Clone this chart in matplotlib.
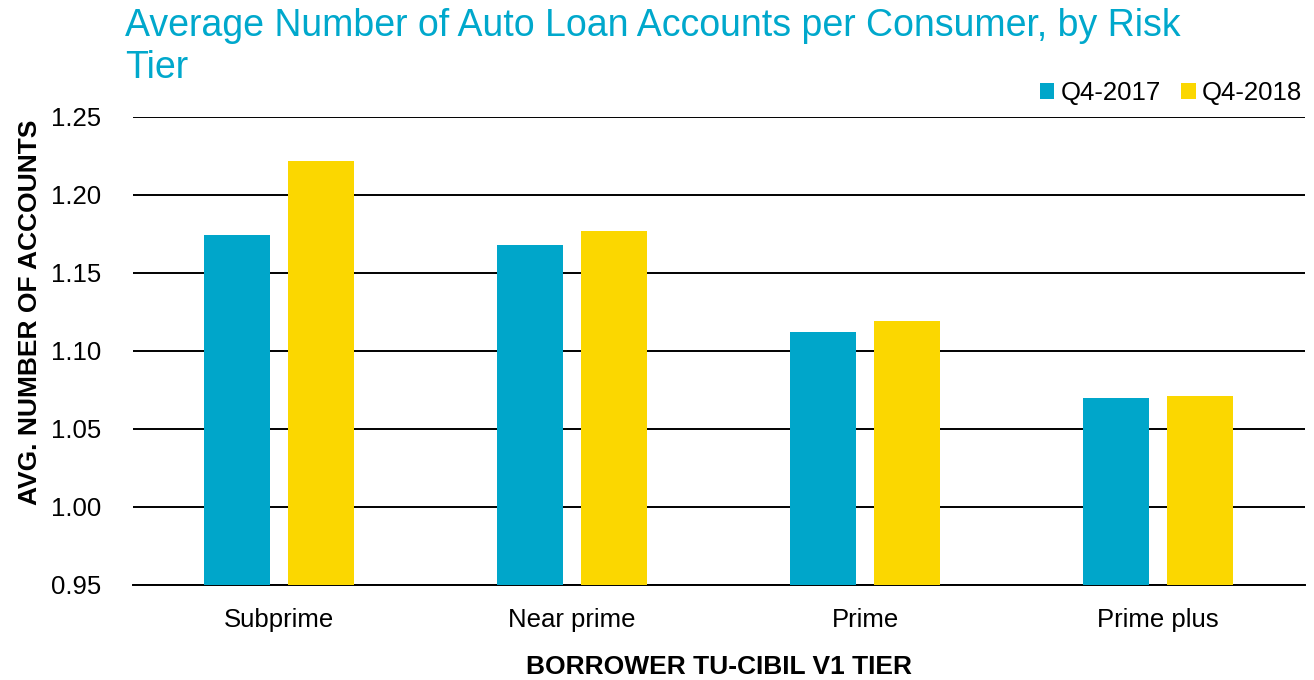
import matplotlib
matplotlib.use("Agg")
import matplotlib.pyplot as plt
import numpy as np

plt.rcParams["font.family"] = ["Liberation Sans", "DejaVu Sans"]

# data
categories = ["Subprime", "Near prime", "Prime", "Prime plus"]
q4_2017 = [1.174, 1.168, 1.112, 1.070]
q4_2018 = [1.222, 1.177, 1.119, 1.071]
series_labels = ["Q4-2017", "Q4-2018"]
yticks = [0.95, 1.00, 1.05, 1.10, 1.15, 1.20, 1.25]

C_BLUE = "#00A6CA"
C_YELLOW = "#FBD700"
C_TITLE = "#00A8CC"

fig = plt.figure(figsize=(13.14, 6.8), dpi=100)
ax = fig.add_axes([0.101, 0.140, 0.892, 0.688])

x = np.arange(len(categories))
w = 0.225
off = 0.143
ax.bar(x - off, q4_2017, w, color=C_BLUE, label=series_labels[0], zorder=3)
ax.bar(x + off, q4_2018, w, color=C_YELLOW, label=series_labels[1], zorder=3)

ax.set_xlim(-0.5, len(categories) - 0.5)
ax.set_ylim(0.95, 1.25)
ax.set_yticks(yticks)
ax.set_yticklabels([f"{v:.2f}" for v in yticks])
ax.set_xticks(x)
ax.set_xticklabels(categories)
ax.tick_params(axis="both", length=0, labelsize=18.5)
ax.tick_params(axis="x", pad=17)
ax.tick_params(axis="y", pad=23)
ax.yaxis.grid(True, color="black", linewidth=1.4, zorder=1)
ax.set_axisbelow(True)
for s in ["top", "right", "left"]:
    ax.spines[s].set_visible(False)
ax.spines["bottom"].set_color("black")
ax.spines["bottom"].set_linewidth(1.4)

ax.set_ylabel("AVG. NUMBER OF ACCOUNTS", fontsize=19, fontweight="bold")
ax.yaxis.set_label_coords(-0.077, 0.583)
ax.set_xlabel("BORROWER TU-CIBIL V1 TIER", fontsize=19, fontweight="bold", labelpad=16)

ax.legend(loc="lower right", bbox_to_anchor=(1.0, 1.02), ncol=2, frameon=False,
          fontsize=18.5, handlelength=0.55, handleheight=0.55, handletextpad=0.25,
          columnspacing=0.8, borderaxespad=0.0, borderpad=0.1)

# title wrapped over two lines, as in the original
fig.text(0.095, 0.947, "Average Number of Auto Loan Accounts per Consumer, by Risk",
         ha="left", va="baseline", fontsize=27, color=C_TITLE)
fig.text(0.095, 0.885, "Tier",
         ha="left", va="baseline", fontsize=27, color=C_TITLE)

fig.savefig("out.png", dpi=100, facecolor="white")
